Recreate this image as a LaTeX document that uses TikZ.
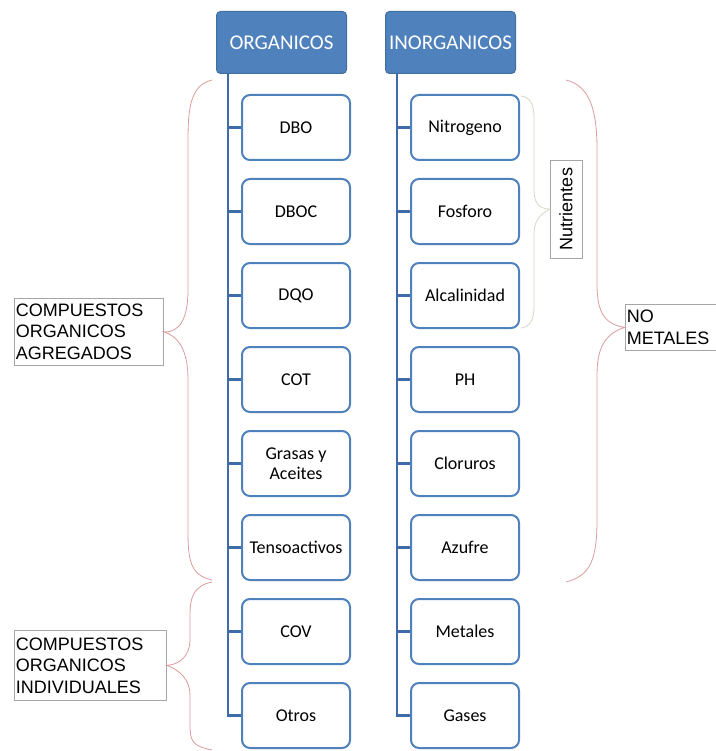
\documentclass[tikz,border=0pt]{standalone}
\usepackage{fontspec}
\setmainfont{Carlito}
\newfontfamily\arialfont{Liberation Sans}
\definecolor{hdrblue}{HTML}{4F81BD}
\definecolor{hdrline}{HTML}{41709F}
\definecolor{trunkblue}{HTML}{3F6CA8}
\definecolor{bracered}{HTML}{DC9C9C}
\definecolor{bracegrey}{HTML}{D6D6C4}
\definecolor{labgrey}{HTML}{A6A6A6}
\begin{document}
\begin{tikzpicture}[x=1pt,y=-1pt,
  header/.style={draw=hdrline, line width=1pt, fill=hdrblue, rounded corners=4pt,
     minimum width=130pt, minimum height=62pt, inner sep=0pt, text=white,
     font=\fontsize{21}{25}\selectfont, anchor=north west},
  item/.style={draw=hdrblue, line width=2pt, fill=white, rounded corners=8pt,
     minimum width=108pt, minimum height=65pt, inner sep=0pt, align=center,
     font=\fontsize{18}{21}\selectfont, anchor=north west},
  trunk/.style={draw=trunkblue, line width=2.6pt},
  branch/.style={draw=trunkblue, line width=2.2pt},
  brace/.style={draw=bracered, line width=0.8pt},
  nbrace/.style={draw=bracegrey, line width=0.8pt},
  lab/.style={draw=labgrey, line width=0.6pt, fill=white, inner xsep=1.5pt, inner ysep=2pt,
     align=left, font=\arialfont\fontsize{18}{21.5}\selectfont, anchor=north west}
]
\useasboundingbox (0,0) rectangle (715,751);

% headers
\node[header] (hO) at (216,11) {ORGANICOS};
\node[header] (hI) at (385,11) {INORGANICOS};

% left items
\node[item] (dbo)  at (241,94)  {DBO};
\node[item] (dboc) at (241,178) {DBOC};
\node[item] (dqo)  at (241,262) {DQO};
\node[item] (cot)  at (241,346) {COT};
\node[item] (gra)  at (241,430) {Grasas y\\[-1pt]Aceites};
\node[item] (ten)  at (241,514) {Tensoactivos};
\node[item] (cov)  at (241,598) {COV};
\node[item] (otr)  at (241,682) {Otros};

% right items
\node[item] (nit) at (410,94)  {Nitrogeno};
\node[item] (fos) at (410,178) {Fosforo};
\node[item] (alc) at (410,262) {Alcalinidad};
\node[item] (ph)  at (410,346) {PH};
\node[item] (clo) at (410,430) {Cloruros};
\node[item] (azu) at (410,514) {Azufre};
\node[item] (met) at (410,598) {Metales};
\node[item] (gas) at (410,682) {Gases};

% trunks
\coordinate (tL) at (228,73);
\coordinate (tR) at (397,73);
\draw[trunk] (tL) -- (tL |- otr.west) -- (otr.west);
\foreach \n in {dbo,dboc,dqo,cot,gra,ten,cov}
  \draw[branch] (tL |- \n.west) -- (\n.west);
\draw[trunk] (tR) -- (tR |- gas.west) -- (gas.west);
\foreach \n in {nit,fos,alc,ph,clo,azu,met}
  \draw[branch] (tR |- \n.west) -- (\n.west);

% labels
\node[lab, text width=146pt, minimum height=67pt] (lagr) at (14,298)
  {COMPUESTOS\\ORGANICOS\\AGREGADOS};
\node[lab, text width=149pt, minimum height=70pt] (lind) at (14,630)
  {COMPUESTOS\\ORGANICOS\\INDIVIDUALES};
\node[lab, rotate=90, minimum width=98pt, minimum height=32pt, anchor=center,
      align=center, inner sep=1pt] (lnut) at (566,209) {Nutrientes};
\node[lab, text width=92pt, minimum height=46pt] (lnom) at (625,304)
  {NO\\METALES};

% braces: upper-left
\draw[brace] (212,80) .. controls (190,85) and (188,110) .. (188,140)
  -- (188,290) .. controls (188,318) and (180,333) .. (lagr.east)
  .. controls (180,337) and (188,352) .. (188,380)
  -- (188,530) .. controls (188,560) and (190,575) .. (212,580);
% lower-left
\draw[brace] (212,582) .. controls (193,586) and (190,598) .. (190,615)
  -- (190,640) .. controls (190,655) and (180,665) .. (lind.east)
  .. controls (180,670) and (190,680) .. (190,695)
  -- (190,725) .. controls (190,742) and (193,746) .. (212,750);
% nutrientes
\draw[nbrace] (521,96) .. controls (530,97) and (534,104) .. (534,118)
  -- (534,190) .. controls (534,204) and (540,209) .. (lnut.north)
  .. controls (540,215) and (534,220) .. (534,234)
  -- (534,306) .. controls (534,320) and (530,327) .. (521,328);
% no metales
\draw[brace] (566,80) .. controls (590,86) and (597,110) .. (597,150)
  -- (597,285) .. controls (597,315) and (607,325) .. (lnom.west)
  .. controls (607,333) and (597,345) .. (597,375)
  -- (597,520) .. controls (597,560) and (590,576) .. (566,582);
\end{tikzpicture}
\end{document}
